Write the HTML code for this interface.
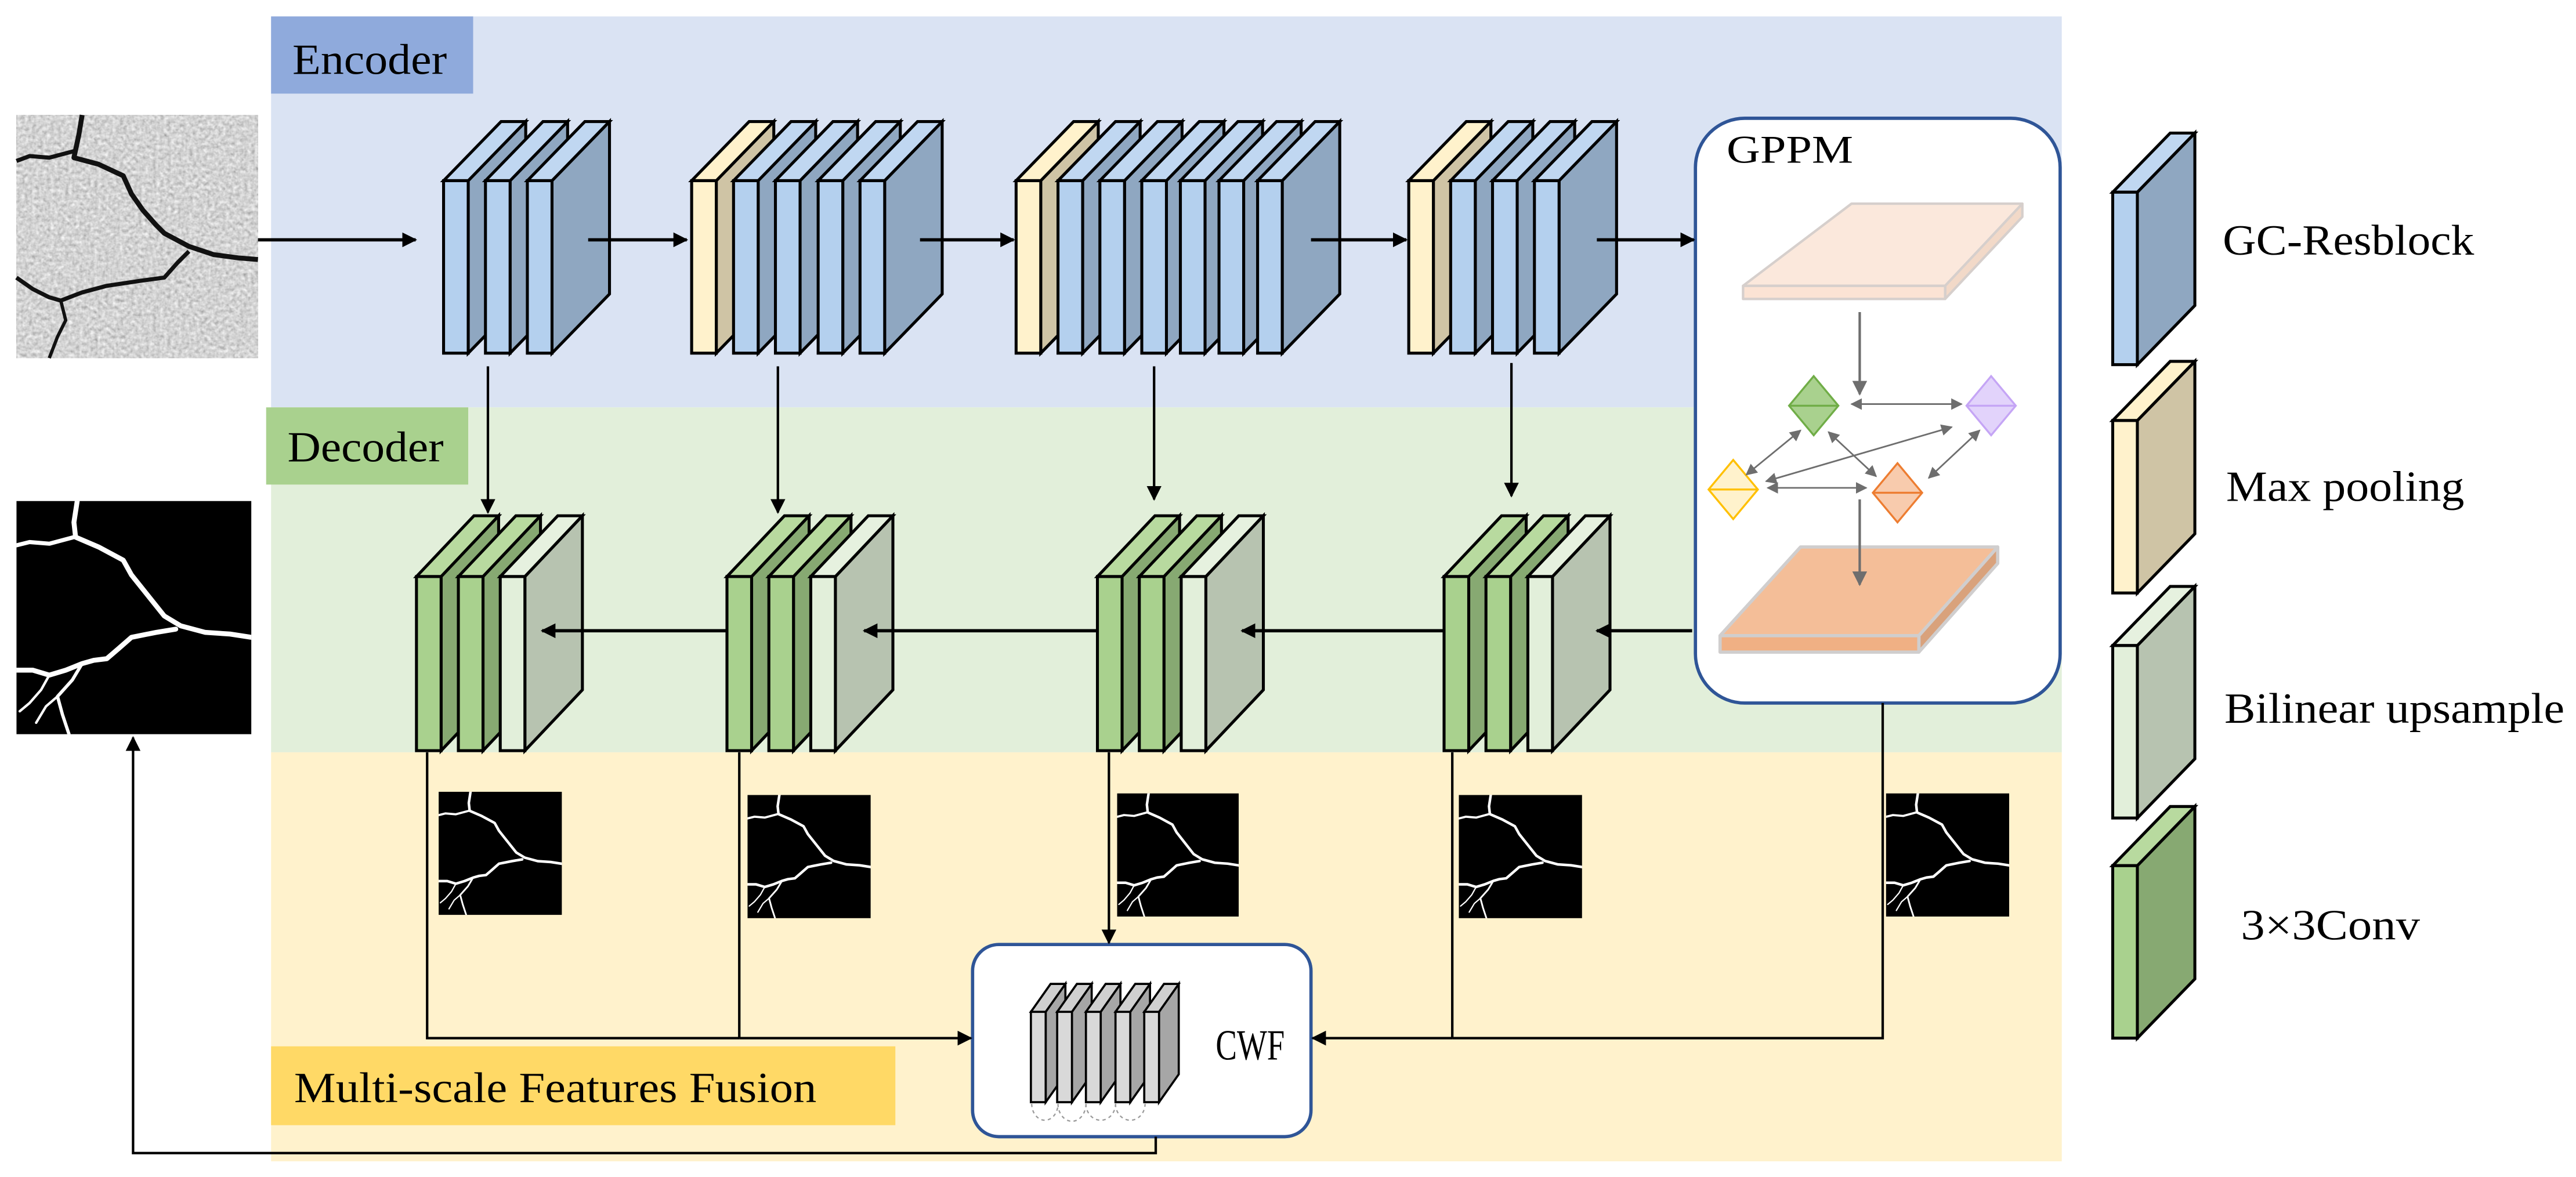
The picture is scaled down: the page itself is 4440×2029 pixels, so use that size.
<!DOCTYPE html>
<html><head><meta charset="utf-8">
<style>
html,body{margin:0;padding:0;background:#fff;}
svg{display:block;}
text{font-family:"Liberation Serif","Times New Roman",serif;fill:#000;}
</style></head>
<body>
<svg xmlns="http://www.w3.org/2000/svg" xmlns:xlink="http://www.w3.org/1999/xlink" width="4440" height="2029" viewBox="0 0 1568 716.55" font-family="Liberation Serif, Times New Roman, serif">
<defs>
<marker id="ah" viewBox="0 0 10 10" refX="9" refY="5" markerWidth="9" markerHeight="9" markerUnits="userSpaceOnUse" orient="auto"><path d="M0,0 L10,5 L0,10 Z" fill="#000"/></marker>
<marker id="ag" viewBox="0 0 10 10" refX="9" refY="5" markerWidth="7" markerHeight="7" markerUnits="userSpaceOnUse" orient="auto-start-reverse"><path d="M0,0 L10,5 L0,10 Z" fill="#6e6e6e"/></marker>
<marker id="ag2" viewBox="0 0 10 10" refX="9" refY="5" markerWidth="9" markerHeight="9" markerUnits="userSpaceOnUse" orient="auto"><path d="M0,0 L10,5 L0,10 Z" fill="#6e6e6e"/></marker>
<filter id="noise" x="0" y="0" width="100%" height="100%">
<feTurbulence type="fractalNoise" baseFrequency="0.45" numOctaves="2" seed="3"/>
<feColorMatrix type="matrix" values="0.5 0.4 0 0 0.2  0.5 0.4 0 0 0.2  0.5 0.4 0 0 0.2  0 0 0 0 1"/>
</filter>
<symbol id="mask" viewBox="10 305 143 142" preserveAspectRatio="none">
<rect x="10" y="305" width="143" height="142" fill="#000"/>
<g fill="none" stroke="#fff" stroke-linejoin="round" stroke-linecap="round">
<polyline stroke-width="3" points="47,305 45,318 46,327 60,333 75,341 80,350 88,360 100,375 110,381 125,385 140,386 153,388"/>
<polyline stroke-width="2.5" points="45,327 30,331 18,330 10,332"/>
<polyline stroke-width="3" points="107,383 95,385 80,388 72,395 65,401 57,402 50,404 40,408 30,411 20,408 10,408"/>
<polyline stroke-width="2" points="50,404 44,414 35,424 38,435 42,447"/>
<polyline stroke-width="1.5" points="30,411 25,420 18,428 12,433"/>
<polyline stroke-width="1.5" points="35,424 28,430 22,440"/>
</g>
</symbol>
<!-- encoder plates h105 dx35 dy-36 -->
<g id="eb" stroke="#000" stroke-width="1.8">
<polygon points="15,0 50,-36 50,69 15,105" fill="#8fa7c1"/>
<polygon points="0,0 15,0 50,-36 35,-36" fill="#c0d7f1"/>
<rect x="0" y="0" width="15" height="105" fill="#b4d0ee"/>
</g>
<g id="ey" stroke="#000" stroke-width="1.8">
<polygon points="15,0 50,-36 50,69 15,105" fill="#cfc4a5"/>
<polygon points="0,0 15,0 50,-36 35,-36" fill="#fff2cc"/>
<rect x="0" y="0" width="15" height="105" fill="#fff2cc"/>
</g>
<g id="eu" stroke="#000" stroke-width="1.8">
<polygon points="15,0 50,-36 50,69 15,105" fill="#b7c3b0"/>
<polygon points="0,0 15,0 50,-36 35,-36" fill="#e6f1df"/>
<rect x="0" y="0" width="15" height="105" fill="#e2efda"/>
</g>
<g id="ec" stroke="#000" stroke-width="1.8">
<polygon points="15,0 50,-36 50,69 15,105" fill="#87a972"/>
<polygon points="0,0 15,0 50,-36 35,-36" fill="#b8da9f"/>
<rect x="0" y="0" width="15" height="105" fill="#a9d18e"/>
</g>
<!-- decoder plates h106 dy-37 -->
<g id="dc" stroke="#000" stroke-width="1.8">
<polygon points="15,0 50,-37 50,69 15,106" fill="#87a972"/>
<polygon points="0,0 15,0 50,-37 35,-37" fill="#b8da9f"/>
<rect x="0" y="0" width="15" height="106" fill="#a9d18e"/>
</g>
<g id="du" stroke="#000" stroke-width="1.8">
<polygon points="15,0 50,-37 50,69 15,106" fill="#b7c3b0"/>
<polygon points="0,0 15,0 50,-37 35,-37" fill="#e6f1df"/>
<rect x="0" y="0" width="15" height="106" fill="#e2efda"/>
</g>
<!-- cwf gray plate -->
<g id="gp" stroke="#000" stroke-width="1.3">
<polygon points="9,0 21,-17 21,38 9,55" fill="#a6a6a6"/>
<polygon points="0,0 9,0 21,-17 12,-17" fill="#d0d0d0"/>
<rect x="0" y="0" width="9" height="55" fill="#d9d9d9"/>
</g>
</defs>

<!-- backgrounds -->
<rect x="165" y="10" width="1090" height="238" fill="#dae3f3"/>
<rect x="165" y="248" width="1090" height="210" fill="#e2efda"/>
<rect x="165" y="458" width="1090" height="249" fill="#fff2cc"/>
<rect x="165" y="10" width="123" height="47" fill="#8faadc"/>
<rect x="162" y="248" width="123" height="47" fill="#a9d18e"/>
<rect x="165" y="637" width="380" height="48" fill="#ffd966"/>
<text x="178" y="45" font-size="26" textLength="94" lengthAdjust="spacingAndGlyphs">Encoder</text>
<text x="175" y="281" font-size="26" textLength="95" lengthAdjust="spacingAndGlyphs">Decoder</text>
<text x="179" y="671" font-size="26" textLength="318" lengthAdjust="spacingAndGlyphs">Multi-scale Features Fusion</text>

<!-- input image -->
<rect x="10" y="70" width="147" height="148" filter="url(#noise)"/>
<g fill="none" stroke="#111" stroke-linejoin="round">
<polyline stroke-width="3" points="50,70 48,82 45,96 60,100 75,107 80,118 87,128 95,137 100,142 115,150 130,155 145,157 157,158"/>
<polyline stroke-width="2.5" points="45,92 30,96 18,95 10,98"/>
<polyline stroke-width="2.5" points="115,153 108,160 100,169 85,171 65,174 50,178 37,183 30,181 20,176 10,169"/>
<polyline stroke-width="2" points="37,183 40,195 35,205 30,218"/>
</g>
<use xlink:href="#mask" href="#mask" x="10" y="305" width="143" height="142"/>
<use xlink:href="#mask" href="#mask" x="267" y="482" width="75" height="75"/>
<use xlink:href="#mask" href="#mask" x="455" y="484" width="75" height="75"/>
<use xlink:href="#mask" href="#mask" x="680" y="483" width="74" height="75"/>
<use xlink:href="#mask" href="#mask" x="888" y="484" width="75" height="75"/>
<use xlink:href="#mask" href="#mask" x="1148" y="483" width="75" height="75"/>

<!-- GPPM box -->
<rect x="1032" y="72" width="222" height="356" rx="30" fill="#fff" stroke="#2f5597" stroke-width="2"/>
<text x="1051" y="99" font-size="24" textLength="77" lengthAdjust="spacingAndGlyphs">GPPM</text>
<g stroke="#d6cfcc" stroke-width="1.5" stroke-linejoin="round">
<polygon points="1061,174 1184,174 1231,124 1127,124" fill="#fbe8dc"/>
<polygon points="1184,174 1231,124 1231,132 1184,182" fill="#f2d9c8"/>
<rect x="1061" y="174" width="123" height="8" fill="#fbe3d4"/>
</g>
<line x1="1132" y1="190" x2="1132" y2="240" stroke="#6e6e6e" stroke-width="1.5" marker-end="url(#ag2)"/>
<g stroke-width="1.2">
<polygon points="1104,229 1119,247 1104,265 1089,247" fill="#a9d18e" stroke="#70ad47"/><line x1="1089" y1="247" x2="1119" y2="247" stroke="#70ad47"/>
<polygon points="1212,229 1227,247 1212,265 1197,247" fill="#e2d3fb" stroke="#c5a5f5"/><line x1="1197" y1="247" x2="1227" y2="247" stroke="#c5a5f5"/>
<polygon points="1055,280 1070,298 1055,316 1040,298" fill="#fff2cc" stroke="#ffc000"/><line x1="1040" y1="298" x2="1070" y2="298" stroke="#ffc000"/>
<polygon points="1155,282 1170,300 1155,318 1140,300" fill="#f8cbad" stroke="#ed7d31"/><line x1="1140" y1="300" x2="1170" y2="300" stroke="#ed7d31"/>
</g>
<g stroke="#6e6e6e" stroke-width="1" marker-start="url(#ag)" marker-end="url(#ag)">
<line x1="1127" y1="246" x2="1194" y2="246"/>
<line x1="1076" y1="297" x2="1136" y2="297"/>
<line x1="1096" y1="262" x2="1063" y2="289"/>
<line x1="1113" y1="263" x2="1142" y2="290"/>
<line x1="1188" y1="260" x2="1075" y2="293"/>
<line x1="1205" y1="262" x2="1174" y2="291"/>
</g>
<g stroke="#d0cece" stroke-width="2" stroke-linejoin="round">
<polygon points="1047,387 1168,387 1216,333 1096,333" fill="#f4be98"/>
<polygon points="1168,387 1216,333 1216,343 1168,397" fill="#d9a27c"/>
<rect x="1047" y="387" width="121" height="10" fill="#f0b084"/>
</g>
<line x1="1132" y1="304" x2="1132" y2="356" stroke="#6e6e6e" stroke-width="1.5" marker-end="url(#ag2)"/>

<!-- CWF box -->
<rect x="592" y="575" width="206" height="117" rx="16" fill="#fff" stroke="#2f5597" stroke-width="2"/>
<text x="740" y="645" font-size="26" textLength="42" lengthAdjust="spacingAndGlyphs">CWF</text>
<g fill="none" stroke="#9a9a9a" stroke-width="0.8" stroke-dasharray="2,2">
<path d="M628,672 A8,10 0 0 0 644,672"/><path d="M644,672 A8,10 0 0 0 661,672"/><path d="M661,672 A9,10 0 0 0 679,672"/><path d="M679,672 A9,10 0 0 0 697,672"/>
</g>
<use href="#gp" xlink:href="#gp" x="627.5" y="616"/>
<use href="#gp" xlink:href="#gp" x="643.5" y="616"/>
<use href="#gp" xlink:href="#gp" x="661" y="616"/>
<use href="#gp" xlink:href="#gp" x="679" y="616"/>
<use href="#gp" xlink:href="#gp" x="696.5" y="616"/>

<!-- encoder blocks -->
<use href="#eb" xlink:href="#eb" x="270" y="110"/>
<use href="#eb" xlink:href="#eb" x="295.5" y="110"/>
<use href="#eb" xlink:href="#eb" x="321" y="110"/>

<use href="#ey" xlink:href="#ey" x="421" y="110"/>
<use href="#eb" xlink:href="#eb" x="446.5" y="110"/>
<use href="#eb" xlink:href="#eb" x="472" y="110"/>
<use href="#eb" xlink:href="#eb" x="498" y="110"/>
<use href="#eb" xlink:href="#eb" x="523.5" y="110"/>

<use href="#ey" xlink:href="#ey" x="618.5" y="110"/>
<use href="#eb" xlink:href="#eb" x="644" y="110"/>
<use href="#eb" xlink:href="#eb" x="669.5" y="110"/>
<use href="#eb" xlink:href="#eb" x="695" y="110"/>
<use href="#eb" xlink:href="#eb" x="718.5" y="110"/>
<use href="#eb" xlink:href="#eb" x="742" y="110"/>
<use href="#eb" xlink:href="#eb" x="765.5" y="110"/>

<use href="#ey" xlink:href="#ey" x="857.5" y="110"/>
<use href="#eb" xlink:href="#eb" x="883" y="110"/>
<use href="#eb" xlink:href="#eb" x="908.5" y="110"/>
<use href="#eb" xlink:href="#eb" x="934" y="110"/>

<!-- decoder blocks -->
<use href="#dc" xlink:href="#dc" x="253.5" y="351"/>
<use href="#dc" xlink:href="#dc" x="279" y="351"/>
<use href="#du" xlink:href="#du" x="304.5" y="351"/>
<use href="#dc" xlink:href="#dc" x="442.5" y="351"/>
<use href="#dc" xlink:href="#dc" x="468" y="351"/>
<use href="#du" xlink:href="#du" x="493.5" y="351"/>
<use href="#dc" xlink:href="#dc" x="668" y="351"/>
<use href="#dc" xlink:href="#dc" x="693.5" y="351"/>
<use href="#du" xlink:href="#du" x="719" y="351"/>
<use href="#dc" xlink:href="#dc" x="879" y="351"/>
<use href="#dc" xlink:href="#dc" x="904.5" y="351"/>
<use href="#du" xlink:href="#du" x="930" y="351"/>

<!-- legend plates -->
<use href="#eb" xlink:href="#eb" x="1286" y="117"/>
<use href="#ey" xlink:href="#ey" x="1286" y="256"/>
<use href="#eu" xlink:href="#eu" x="1286" y="393"/>
<use href="#ec" xlink:href="#ec" x="1286" y="527"/>

<!-- encoder arrows -->
<g stroke="#000" stroke-width="2" fill="none" marker-end="url(#ah)">
<line x1="157" y1="146" x2="253" y2="146"/>
<line x1="358" y1="146" x2="418" y2="146"/>
<line x1="560" y1="146" x2="617" y2="146"/>
<line x1="798" y1="146" x2="856" y2="146"/>
<line x1="972" y1="146" x2="1031" y2="146"/>
</g>
<g stroke="#000" stroke-width="1.5" fill="none" marker-end="url(#ah)">
<line x1="297" y1="223" x2="297" y2="312"/>
<line x1="473.5" y1="223" x2="473.5" y2="312"/>
<line x1="702.5" y1="223" x2="702.5" y2="304"/>
<line x1="920" y1="221" x2="920" y2="302"/>
</g>
<g stroke="#000" stroke-width="2" fill="none" marker-end="url(#ah)">
<line x1="1030" y1="384" x2="972" y2="384"/>
<line x1="879" y1="384" x2="756" y2="384"/>
<line x1="668" y1="384" x2="526" y2="384"/>
<line x1="442" y1="384" x2="330" y2="384"/>
</g>
<g stroke="#000" stroke-width="1.5" fill="none">
<polyline points="260,458 260,632 450,632"/>
<line x1="450" y1="458" x2="450" y2="632"/>
<polyline points="884,458 884,632"/>
<polyline points="1146,428 1146,632 884,632"/>
</g>
<g stroke="#000" stroke-width="1.5" fill="none" marker-end="url(#ah)">
<line x1="450" y1="632" x2="591" y2="632"/>
<line x1="884" y1="632" x2="799" y2="632"/>
<line x1="675" y1="458" x2="675" y2="574"/>
<polyline points="703.5,692 703.5,702 81,702 81,449"/>
</g>

<text x="1353" y="155" font-size="26" textLength="153" lengthAdjust="spacingAndGlyphs">GC-Resblock</text>
<text x="1355" y="305" font-size="26" textLength="145" lengthAdjust="spacingAndGlyphs">Max pooling</text>
<text x="1354" y="440" font-size="26" textLength="207" lengthAdjust="spacingAndGlyphs">Bilinear upsample</text>
<text x="1364" y="572" font-size="26" textLength="109" lengthAdjust="spacingAndGlyphs">3×3Conv</text>
</svg>
</body></html>
